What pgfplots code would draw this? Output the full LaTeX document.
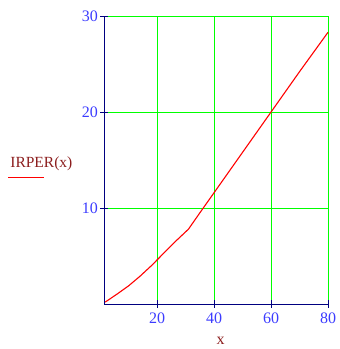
\documentclass[border=0pt]{standalone}
\usepackage{pgfplots}
\pgfplotsset{compat=1.18}
\usepackage{fontspec}
\setmainfont{Liberation Serif}
\definecolor{navy}{RGB}{0,0,128}
\definecolor{ticblue}{RGB}{60,60,255}
\definecolor{gridgreen}{RGB}{0,255,0}
\definecolor{lblred}{RGB}{140,30,30}
\begin{document}
\begin{tikzpicture}
\begin{axis}[
  name=ax,
  scale only axis,
  width=223.5bp, height=288bp,
  xmin=1.5, xmax=80, ymin=0, ymax=30,
  axis x line*=bottom, axis y line*=left,
  axis line style={navy, line width=0.8pt},
  xtick={20,40,60,80}, ytick={10,20,30},
  tick align=center,
  major tick length=8bp,
  tick style={navy, line width=0.8pt},
  grid=major,
  grid style={gridgreen, line width=0.8pt},
  /pgf/number format/assume math mode=true,
  ticklabel style={font=\fontsize{16bp}{18bp}\selectfont, text=ticblue},
  yticklabel style={xshift=1bp},
  xticklabel style={yshift=-1bp},
  xlabel={x},
  xlabel style={at={(axis description cs:0.52,-0.128)}, anchor=center, text=lblred, font=\fontsize{16bp}{18bp}\selectfont},
  ylabel={\begin{tabular}{@{}l@{}}\hspace{2bp}IRPER(x)\\[-8bp]\textcolor{red}{\rule{36bp}{1.3bp}}\end{tabular}},
  ylabel style={rotate=-90, at={(axis description cs:-0.287,0.468)}, anchor=center, text=lblred, font=\fontsize{15.5bp}{18bp}\selectfont},
  clip=false,
]
\addplot[red, line width=1.1pt] coordinates {
(1.75,0.2) (6,1.05) (10,1.9) (14,2.9) (18,4.0) (22,5.2) (26,6.4) (31,7.8)
(35,9.5) (40,11.6) (45,13.7) (50,15.8) (55,17.9) (60,20.0) (65,22.1) (70,24.2) (75,26.25) (80,28.3)
};
\end{axis}
\path[use as bounding box] ([shift={(-104.5bp,-45bp)}]ax.south west) rectangle ([shift={(10bp,16bp)}]ax.north east);
\end{tikzpicture}
\end{document}
